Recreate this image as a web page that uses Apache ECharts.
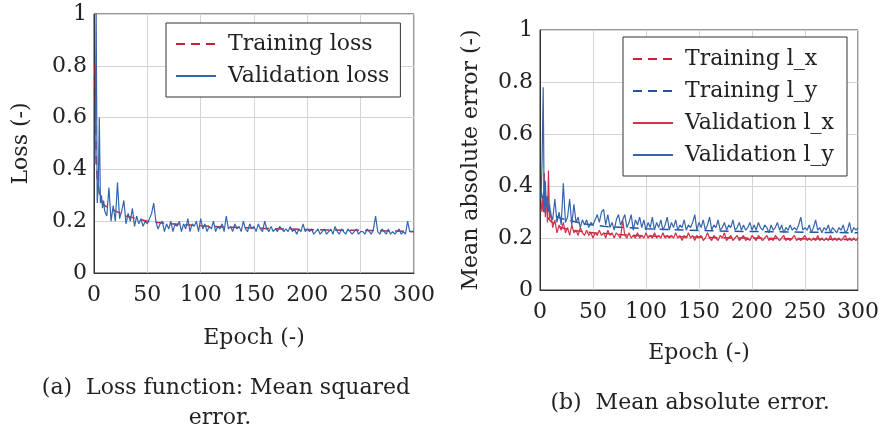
<!DOCTYPE html>
<html><head><meta charset="utf-8">
<script src="https://cdn.jsdelivr.net/npm/echarts@6/dist/echarts.min.js"></script>
<style>html,body{margin:0;padding:0;background:#fff}#c{width:882px;height:431px}</style>
</head><body><div id="c"></div>
<script>
// Epochs at which the validation curves are sampled
const valEpochs = [1,2,3,4,5,6,7,8,9,
10,12,14,16,18,20,22,24,26,28,30,32,34,36,38,40,42,44,46,48,50,
52,54,56,58,60,62,64,66,68,70,72,74,76,78,80,82,84,86,88,90,92,94,96,98,100,
102,104,106,108,110,112,114,116,118,120,122,124,126,128,130,132,134,136,138,140,142,144,146,148,150,
152,154,156,158,160,162,164,166,168,170,172,174,176,178,180,182,184,186,188,190,192,194,196,198,200,
202,204,206,208,210,212,214,216,218,220,222,224,226,228,230,232,234,236,238,240,242,244,246,248,250,
252,254,256,258,260,262,264,266,268,270,272,274,276,278,280,282,284,286,288,290,292,294,296,298,300];
// Epochs at which the (smooth) training curves are sampled
const trainEpochs = [1,2,3,4,5,6,8,10,15,20,25,30,40,50,60,70,80,90,100,120,140,160,180,200,220,240,260,280,300];

// (a) loss
const trainLoss = [0.8,0.45,0.37,0.34,0.31,0.29,0.27,0.26,0.25,0.24,0.23,0.22,0.21,0.2,0.195,0.19,0.188,0.185,0.182,0.178,0.175,0.172,0.17,0.168,0.166,0.165,0.164,0.162,0.16];
const valLoss = [0.42,1.02,0.27,0.33,0.6,0.27,0.3,0.25,0.28,
0.24,0.22,0.33,0.2,0.26,0.2,0.35,0.21,0.24,0.28,0.19,0.23,0.2,0.25,0.18,0.22,0.19,0.21,0.18,0.2,0.19,
0.21,0.23,0.27,0.2,0.17,0.19,0.2,0.16,0.19,0.17,0.2,0.16,0.19,0.18,0.2,0.16,0.19,0.17,0.21,0.16,0.19,0.18,0.2,0.16,0.21,
0.17,0.19,0.16,0.18,0.17,0.2,0.16,0.18,0.17,0.19,0.16,0.22,0.17,0.18,0.16,0.19,0.17,0.18,0.16,0.2,0.17,0.16,0.19,0.17,0.18,
0.16,0.19,0.17,0.16,0.2,0.17,0.16,0.18,0.16,0.17,0.16,0.18,0.17,0.16,0.17,0.16,0.18,0.16,0.17,0.15,0.17,0.16,0.19,0.16,0.17,
0.16,0.17,0.15,0.16,0.17,0.15,0.16,0.17,0.15,0.16,0.17,0.15,0.18,0.16,0.15,0.17,0.16,0.15,0.17,0.16,0.15,0.16,0.17,0.15,0.16,
0.16,0.15,0.17,0.16,0.15,0.17,0.22,0.16,0.15,0.17,0.16,0.15,0.17,0.15,0.16,0.15,0.16,0.17,0.15,0.16,0.15,0.2,0.16,0.16,0.16];

// (b) mean absolute error
const trainLx = [0.33,0.32,0.31,0.3,0.29,0.285,0.275,0.265,0.25,0.24,0.235,0.23,0.225,0.22,0.217,0.215,0.212,0.21,0.208,0.206,0.204,0.202,0.2,0.2,0.198,0.197,0.196,0.195,0.194];
const trainLy = [0.38,0.36,0.35,0.34,0.33,0.32,0.31,0.3,0.285,0.275,0.27,0.265,0.255,0.25,0.245,0.242,0.24,0.238,0.236,0.233,0.23,0.228,0.226,0.225,0.224,0.223,0.222,0.221,0.22];
const valLx = [0.3,0.35,0.3,0.45,0.28,0.36,0.26,0.46,0.27,
0.3,0.24,0.27,0.22,0.25,0.23,0.26,0.22,0.24,0.21,0.25,0.22,0.23,0.21,0.24,0.22,0.21,0.23,0.21,0.22,0.2,
0.22,0.21,0.23,0.21,0.22,0.2,0.23,0.21,0.22,0.2,0.22,0.21,0.2,0.27,0.21,0.2,0.22,0.2,0.21,0.2,0.22,0.2,0.21,0.2,0.22,
0.2,0.21,0.2,0.22,0.2,0.21,0.2,0.22,0.2,0.21,0.2,0.21,0.2,0.22,0.2,0.21,0.19,0.21,0.2,0.22,0.2,0.21,0.19,0.21,0.2,
0.21,0.19,0.2,0.22,0.2,0.19,0.21,0.2,0.19,0.21,0.2,0.22,0.19,0.2,0.21,0.19,0.2,0.21,0.19,0.2,0.21,0.19,0.2,0.19,0.21,
0.2,0.19,0.21,0.2,0.19,0.2,0.21,0.19,0.2,0.19,0.21,0.2,0.19,0.2,0.21,0.19,0.2,0.19,0.2,0.21,0.19,0.2,0.19,0.2,0.21,
0.19,0.2,0.19,0.2,0.19,0.21,0.19,0.2,0.19,0.2,0.19,0.21,0.19,0.2,0.19,0.2,0.19,0.2,0.21,0.19,0.2,0.19,0.2,0.19,0.2];
const valLy = [0.35,0.5,0.78,0.3,0.42,0.32,0.36,0.3,0.33,
0.29,0.27,0.35,0.26,0.3,0.25,0.41,0.26,0.28,0.35,0.25,0.33,0.26,0.28,0.24,0.27,0.25,0.27,0.24,0.26,0.25,
0.27,0.29,0.26,0.3,0.31,0.25,0.29,0.24,0.26,0.23,0.27,0.29,0.25,0.27,0.29,0.24,0.26,0.29,0.23,0.27,0.25,0.28,0.24,0.27,0.23,
0.26,0.24,0.28,0.23,0.26,0.24,0.27,0.23,0.25,0.28,0.23,0.26,0.24,0.27,0.23,0.25,0.24,0.27,0.23,0.25,0.24,0.26,0.29,0.23,0.26,
0.24,0.27,0.23,0.25,0.28,0.23,0.25,0.24,0.27,0.23,0.24,0.26,0.23,0.25,0.24,0.27,0.23,0.24,0.26,0.23,0.25,0.23,0.24,0.26,0.23,
0.25,0.23,0.26,0.24,0.23,0.25,0.24,0.22,0.25,0.23,0.24,0.26,0.23,0.25,0.22,0.24,0.23,0.25,0.23,0.24,0.23,0.25,0.28,0.23,0.24,
0.23,0.25,0.22,0.24,0.27,0.23,0.24,0.22,0.24,0.23,0.25,0.22,0.24,0.23,0.22,0.24,0.23,0.25,0.22,0.23,0.26,0.22,0.24,0.23,0.24];

const xTicks = [0,50,100,150,200,250,300];

const RED = '#c8203a', BLUE = '#2453a0', VBLUE = '#3565ad', VRED = '#d0334a';
const FONT = 'DejaVu Serif';
const pair = (xs, ys) => xs.map((x, i) => [x, ys[i]]);

function xAx(gi, gap) {
  return {
    type: 'value', gridIndex: gi, min: 0, max: 300, interval: 50,
    name: 'Epoch (-)', nameLocation: 'middle', nameGap: gap,
    nameTextStyle: {fontFamily: FONT, fontSize: 22, color: '#222'},
    axisLine: {show: true, onZero: false, lineStyle: {color: '#333'}},
    axisTick: {show: false},
    axisLabel: {fontFamily: FONT, fontSize: 22, color: '#222', margin: 11,
      formatter: v => xTicks.includes(v) ? String(v) : ''},
    splitLine: {show: true, lineStyle: {color: '#d4d4d4'}}
  };
}
function yAx(gi, name, gap) {
  return {
    type: 'value', gridIndex: gi, min: 0, max: 1, interval: 0.2,
    name: name, nameLocation: 'middle', nameGap: gap,
    nameTextStyle: {fontFamily: FONT, fontSize: 22, color: '#222'},
    axisLine: {show: true, lineStyle: {color: '#333'}},
    axisTick: {show: false},
    axisLabel: {fontFamily: FONT, fontSize: 22, color: '#222', margin: 7},
    splitLine: {show: true, lineStyle: {color: '#d4d4d4'}}
  };
}
function ser(name, gi, xs, ys, color, dashed) {
  return {
    name: name, type: 'line', xAxisIndex: gi, yAxisIndex: gi,
    data: pair(xs, ys), symbol: 'none', clip: true,
    lineStyle: {color: color, width: dashed ? 1.5 : 1.2, type: dashed ? [9, 6] : 'solid'},
    itemStyle: {color: color}, animation: false
  };
}
const legStyle = {
  orient: 'vertical', backgroundColor: '#fff', borderColor: '#333', borderWidth: 1,
  itemWidth: 40, itemHeight: 20, itemGap: 10,
  itemStyle: {opacity: 0},
  textStyle: {fontFamily: FONT, fontSize: 22, color: '#222', padding: [0, 0, 0, 7]}
};

const chart = echarts.init(document.getElementById('c'), null, {renderer: 'canvas'});
chart.setOption({
  animation: false,
  grid: [
    {left: 94, top: 14, width: 320, height: 259, show: true, borderColor: '#333', borderWidth: 1},
    {left: 540, top: 30, width: 320, height: 260, show: true, borderColor: '#333', borderWidth: 1}
  ],
  xAxis: [xAx(0, 54), xAx(1, 52)],
  yAxis: [yAx(0, 'Loss (-)', 62), yAx(1, 'Mean absolute error (-)', 58)],
  legend: [
    Object.assign({}, legStyle, {left: 166, top: 23, padding: [10, 11, 10, 9],
      data: ['Training loss', 'Validation loss']}),
    Object.assign({}, legStyle, {left: 623, top: 37, padding: [11, 13, 10, 9],
      data: ['Training l_x', 'Training l_y', 'Validation l_x', 'Validation l_y']})
  ],
  series: [
    ser('Training loss', 0, trainEpochs, trainLoss, RED, true),
    ser('Validation loss', 0, valEpochs, valLoss, VBLUE, false),
    ser('Training l_x', 1, trainEpochs, trainLx, RED, true),
    ser('Training l_y', 1, trainEpochs, trainLy, BLUE, true),
    ser('Validation l_x', 1, valEpochs, valLx, VRED, false),
    ser('Validation l_y', 1, valEpochs, valLy, VBLUE, false)
  ],
  graphic: [
    {type: 'text', x: 226, y: 388, style: {text: '(a)  Loss function: Mean squared', font: '22px "DejaVu Serif"', fill: '#222', textAlign: 'center', textVerticalAlign: 'middle'}},
    {type: 'text', x: 220, y: 418, style: {text: 'error.', font: '22px "DejaVu Serif"', fill: '#222', textAlign: 'center', textVerticalAlign: 'middle'}},
    {type: 'text', x: 690, y: 403, style: {text: '(b)  Mean absolute error.', font: '22px "DejaVu Serif"', fill: '#222', textAlign: 'center', textVerticalAlign: 'middle'}}
  ]
});
</script></body></html>
